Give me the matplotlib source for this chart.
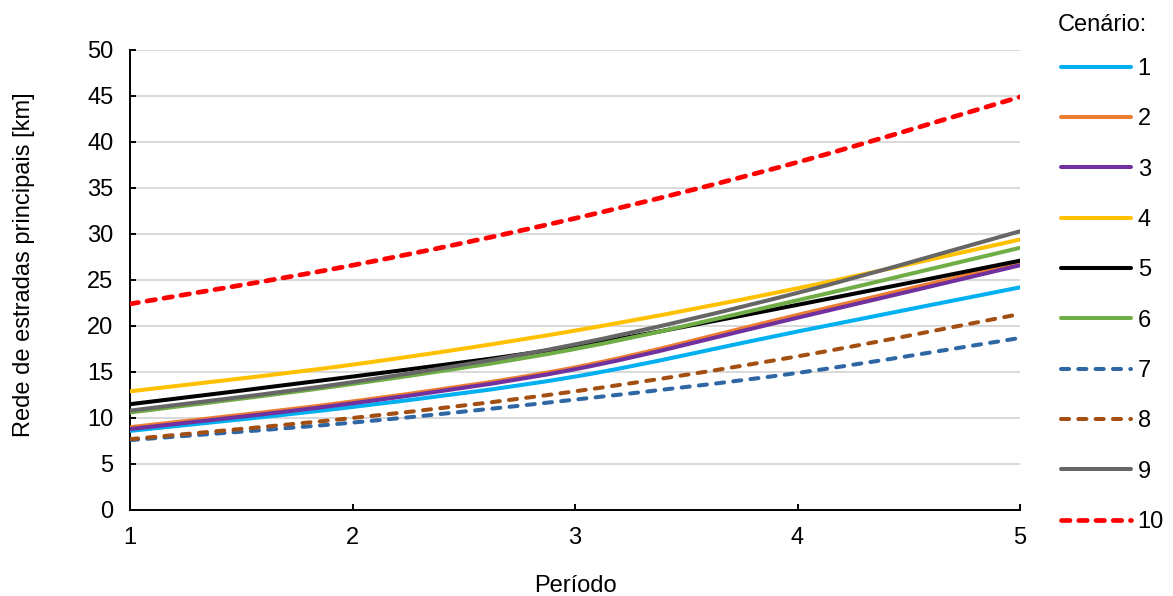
import numpy as np
import matplotlib
matplotlib.use("Agg")
import matplotlib.pyplot as plt
from matplotlib.path import Path
from matplotlib.patches import PathPatch
from matplotlib.lines import Line2D

plt.rcParams['font.family'] = ['Liberation Sans', 'DejaVu Sans']

# period on the x axis
periods = [1, 2, 3, 4, 5]

# main road network [km] per scenario
cen1 = [8.6, 11.2, 14.5, 19.4, 24.2]
cen2 = [9.0, 11.8, 15.5, 21.2, 26.9]
cen3 = [8.8, 11.6, 15.3, 20.9, 26.6]
cen4 = [12.9, 15.8, 19.5, 24.1, 29.4]
cen5 = [11.5, 14.5, 17.8, 22.3, 27.1]
cen6 = [10.6, 13.7, 17.5, 22.8, 28.5]
cen7 = [7.6, 9.5, 12.0, 14.9, 18.7]
cen8 = [7.7, 10.0, 12.9, 16.7, 21.3]
cen9 = [10.8, 13.9, 18.0, 23.6, 30.3]
cen10 = [22.4, 26.6, 31.7, 37.8, 44.9]

labels = ['1', '2', '3', '4', '5', '6', '7', '8', '9', '10']
series = [cen1, cen2, cen3, cen4, cen5, cen6, cen7, cen8, cen9, cen10]
colors = ['#00B0F0', '#ED7D31', '#7030A0', '#FFC000', '#000000',
          '#70AD47', '#2E67A3', '#A34F12', '#666666', '#FF0000']
dashed = [False, False, False, False, False, False, True, True, False, True]


def smooth_path(xs, ys):
    # bezier segments through every point, like a smoothed spreadsheet line
    pts = np.column_stack([xs, ys]).astype(float)
    n = len(pts)
    verts = [pts[0]]
    codes = [Path.MOVETO]
    for i in range(n - 1):
        p0 = pts[i - 1] if i > 0 else pts[i]
        p1 = pts[i]
        p2 = pts[i + 1]
        p3 = pts[i + 2] if i + 2 < n else pts[i + 1]
        verts += [p1 + (p2 - p0) / 6.0, p2 - (p3 - p1) / 6.0, p2]
        codes += [Path.CURVE4] * 3
    return Path(verts, codes)


fig = plt.figure(figsize=(11.73, 5.96), dpi=100)
ax = fig.add_axes([130 / 1173, 1 - 510 / 596, 890 / 1173, 460 / 596])

handles = []
for ys, c, lab, d in zip(series, colors, labels, dashed):
    if lab == '10':
        lw, ls = 3.4, (0, (1.8, 1.85))
    elif d:
        lw, ls = 2.9, (0, (2.0, 2.3))
    else:
        lw, ls = 2.9, '-'
    patch = PathPatch(smooth_path(periods, ys), fill=False, edgecolor=c, lw=lw,
                      linestyle=ls, capstyle='round', joinstyle='round', zorder=3)
    ax.add_patch(patch)
    handles.append(Line2D([], [], color=c, lw=lw, linestyle=ls,
                          dash_capstyle='round', solid_capstyle='round', label=lab))

ax.set_xlim(1, 5)
ax.set_ylim(0, 50)
ax.set_xticks(periods)
ax.set_yticks(np.arange(0, 51, 5))
ax.grid(axis='y', color='#D9D9D9', lw=1.4, zorder=0)
ax.set_axisbelow(True)
for s in ['top', 'right']:
    ax.spines[s].set_visible(False)
for s in ['left', 'bottom']:
    ax.spines[s].set_linewidth(1.4)
ax.tick_params(axis='both', direction='in', length=4.5, width=1.4, labelsize=17)
ax.tick_params(axis='x', pad=12)
ax.tick_params(axis='y', pad=12)

ax.set_xlabel('Período', fontsize=17, labelpad=19)
ax.set_ylabel('Rede de estradas principais [km]', fontsize=17)
ax.yaxis.set_label_coords(-0.107, 0.533)

fig.text(1058 / 1173, 1 - 25 / 596, 'Cenário:', fontsize=17, ha='left', va='center')
fig.legend(handles=handles, loc='upper left', bbox_to_anchor=(1061 / 1173, 1 - 58 / 596),
           frameon=False, fontsize=17, handlelength=2.95, handletextpad=0.3,
           labelspacing=1.2, borderpad=0, borderaxespad=0)

fig.savefig('out.png', dpi=100)
